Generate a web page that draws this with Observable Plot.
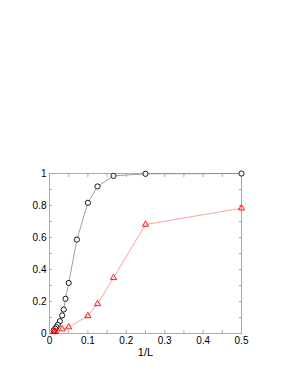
<!DOCTYPE html>
<html><head><meta charset="utf-8">
<script src="https://cdn.jsdelivr.net/npm/d3@7"></script>
<script src="https://cdn.jsdelivr.net/npm/@observablehq/plot@0.6"></script>
<style>body{margin:0;background:#fff}</style>
</head><body><div id="chart"></div>
<script>
const blackX = [0.5, 0.25, 0.1667, 0.125, 0.1, 0.0714, 0.05, 0.0417, 0.037, 0.033, 0.027, 0.0217, 0.018, 0.015, 0.011];
const blackY = [1.0, 0.998, 0.985, 0.919, 0.817, 0.587, 0.316, 0.217, 0.15, 0.113, 0.077, 0.054, 0.04, 0.03, 0.019];
const redX = [0.5, 0.25, 0.1667, 0.125, 0.1, 0.05, 0.033, 0.0156, 0.0125, 0.011];
const redY = [0.783, 0.681, 0.348, 0.185, 0.11, 0.04, 0.027, 0.013, 0.012, 0.01];
const xTicks = [0, 0.1, 0.2, 0.3, 0.4, 0.5];
const xMinor = [0.05, 0.15, 0.25, 0.35, 0.45];
const yTicks = [0, 0.2, 0.4, 0.6, 0.8, 1];
const yMinor = [0.1, 0.3, 0.5, 0.7, 0.9];

const black = blackX.map((x, i) => ({x, y: blackY[i]}));
const red = redX.map((x, i) => ({x, y: redY[i]}));

const tk = {tickSize: -3, tickFormat: () => "", stroke: "#aaa", label: null};
const plot = Plot.plot({
  width: 291, height: 376,
  marginLeft: 49, marginRight: 50, marginTop: 173, marginBottom: 43,
  style: {fontFamily: "'Liberation Sans', Arial, sans-serif", fontSize: "10px", color: "#000", background: "#fff"},
  x: {domain: [0, 0.5]},
  y: {domain: [0, 1]},
  marks: [
    Plot.frame({stroke: "#aaa"}),
    Plot.axisX({ticks: xTicks, tickFormat: d => String(d), tickSize: -3, tickPadding: 6, stroke: "#aaa", label: null}),
    Plot.axisX({ticks: xMinor, ...tk}),
    Plot.axisX({anchor: "top", ticks: xTicks, ...tk}),
    Plot.axisX({anchor: "top", ticks: xMinor, ...tk}),
    Plot.axisY({ticks: yTicks, tickFormat: d => String(d), tickSize: -3, tickPadding: 6, stroke: "#aaa", label: null}),
    Plot.axisY({ticks: yMinor, ...tk}),
    Plot.axisY({anchor: "right", ticks: yTicks, ...tk}),
    Plot.axisY({anchor: "right", ticks: yMinor, ...tk}),
    Plot.text(["1/L"], {frameAnchor: "bottom", dy: 22, fontSize: 11}),
    Plot.line(black, {x: "x", y: "y", stroke: "#888", strokeWidth: 0.8}),
    Plot.dot(black, {x: "x", y: "y", symbol: "circle", r: 2.6, stroke: "#000", fill: "#fff", strokeWidth: 0.9}),
    Plot.line(red, {x: "x", y: "y", stroke: "#ff8888", strokeWidth: 0.8}),
    Plot.dot(red, {x: "x", y: "y", symbol: "triangle", r: 2.3, stroke: "#ff0000", fill: "none", strokeWidth: 0.9})
  ]
});
document.getElementById("chart").appendChild(plot);
</script>
</body></html>
